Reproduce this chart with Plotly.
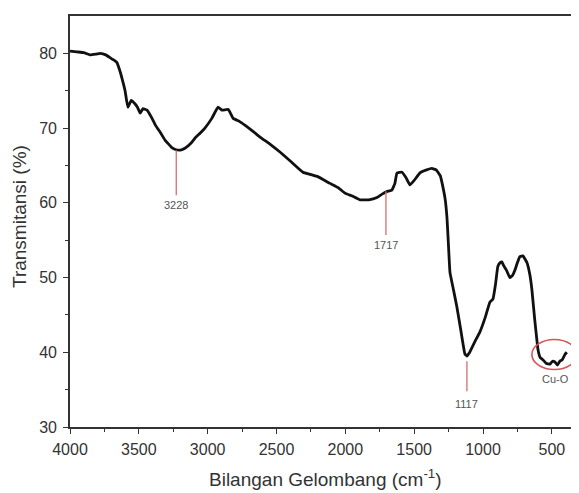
import plotly.graph_objects as go

wavenumber = [4000, 3950, 3900, 3855, 3810, 3780, 3740, 3700, 3680, 3660, 3640, 3620, 3600, 3580,
              3555, 3530, 3510, 3490, 3470, 3440, 3410, 3380, 3340, 3310, 3260, 3228, 3190, 3165,
              3120, 3090, 3050, 3020, 2970, 2925, 2895, 2850, 2815, 2770, 2730, 2680, 2620, 2550,
              2475, 2400, 2308, 2200, 2112, 2050, 2003, 1950, 1894, 1830, 1770, 1730, 1698, 1662,
              1640, 1625, 1589, 1560, 1531, 1500, 1458, 1410, 1371, 1340, 1310, 1291, 1275, 1262,
              1250, 1240, 1215, 1190, 1160, 1132, 1117, 1100, 1060, 1023, 985, 950, 928, 910, 892,
              875, 863, 850, 830, 805, 785, 768, 750, 732, 710, 681, 660, 645, 625, 609, 601, 585,
              565, 540, 514, 495, 478, 460, 442, 425, 405, 391]
transmittance = [80.3, 80.2, 80.1, 79.8, 79.9, 80.0, 79.8, 79.3, 79.1, 78.8, 77.8, 76.5, 75.0, 72.8,
                 73.7, 73.3, 72.8, 72.0, 72.6, 72.4, 71.5, 70.4, 69.3, 68.4, 67.4, 67.1, 67.1, 67.3,
                 68.0, 68.7, 69.4, 70.0, 71.3, 72.8, 72.4, 72.5, 71.3, 70.9, 70.4, 69.7, 68.8, 67.9,
                 66.8, 65.6, 64.1, 63.5, 62.6, 62.0, 61.3, 60.9, 60.4, 60.4, 60.7, 61.2, 61.5, 61.7,
                 62.6, 64.0, 64.1, 63.4, 62.4, 63.0, 64.0, 64.4, 64.6, 64.4, 63.6, 62.1, 60.5, 58.1,
                 54.0, 50.7, 48.4, 46.1, 42.8, 39.8, 39.5, 39.9, 41.4, 42.7, 44.6, 46.7, 47.1, 49.0,
                 51.5, 52.0, 52.1, 51.6, 51.0, 50.0, 50.3, 51.0, 52.0, 52.8, 52.9, 52.0, 50.4, 48.4,
                 44.5, 41.7, 40.4, 39.3, 39.0, 38.5, 38.4, 38.8, 38.7, 38.3, 38.8, 39.0, 39.7, 40.0]

peak_labels = ["3228", "1717", "1117"]
peak_x = [3228, 1705, 1117]
peak_line_top = [67.0, 61.5, 38.8]
peak_line_bottom = [61.0, 55.7, 34.8]
peak_label_y = [59.7, 54.4, 33.1]

cuo_label = "Cu-O"
cuo_x = [645, 318]
cuo_y = [37.7, 41.7]
cuo_label_pos = (470, 36.4)

x_ticks = [4000, 3500, 3000, 2500, 2000, 1500, 1000, 500]
y_ticks = [30, 40, 50, 60, 70, 80]

x_title = "Bilangan Gelombang (cm<sup>-1</sup>)"
y_title = "Transmitansi (%)"

fig = go.Figure()
fig.add_trace(go.Scatter(x=wavenumber, y=transmittance, mode="lines",
                         line=dict(color="#111111", width=2.8, shape="spline", smoothing=0.3),
                         showlegend=False, hoverinfo="skip"))

small_font = dict(size=11, color="#555555", family="Liberation Sans, Arial")
for lbl, px, yt, yb, yl in zip(peak_labels, peak_x, peak_line_top, peak_line_bottom, peak_label_y):
    fig.add_shape(type="line", x0=px, x1=px, y0=yt, y1=yb, xref="x", yref="y",
                  line=dict(color="#d9777a", width=1.4))
    fig.add_annotation(x=px, y=yl, text=lbl, showarrow=False, xref="x", yref="y", font=small_font)

fig.add_shape(type="circle", x0=cuo_x[0], x1=cuo_x[1], y0=cuo_y[0], y1=cuo_y[1],
              xref="x", yref="y", line=dict(color="#d9535a", width=1.6))
fig.add_annotation(x=cuo_label_pos[0], y=cuo_label_pos[1], text=cuo_label, showarrow=False,
                   xref="x", yref="y", font=small_font)

title_font = dict(family="Liberation Sans, Arial", size=19, color="#333333")
fig.add_annotation(text=x_title, xref="paper", yref="paper", x=0.502, y=-0.1557,
                   showarrow=False, xanchor="center", yanchor="bottom", borderpad=0,
                   font=title_font)
fig.add_annotation(text=y_title, xref="paper", yref="paper", x=-0.0984, y=0.511, textangle=-90,
                   showarrow=False, xanchor="center", yanchor="middle", font=title_font)

axis_font = dict(family="Liberation Sans, Arial", size=16, color="#333333")
common = dict(ticks="outside", ticklen=5, tickwidth=1.3, tickcolor="#333333", showline=True,
              linecolor="#333333", linewidth=1.6, mirror=True, showgrid=False, zeroline=False,
              tickfont=axis_font, automargin=False)
fig.update_xaxes(range=[4000, 310], tickvals=x_ticks, ticklabelstandoff=2,
                 minor=dict(tickvals=[3750, 3250, 2750, 2250, 1750, 1250, 750], ticks="outside",
                            ticklen=3, tickcolor="#333333", tickwidth=1.2), **common)
fig.update_yaxes(range=[30, 85], tickvals=y_ticks, ticklabelstandoff=3,
                 minor=dict(tickvals=[35, 45, 55, 65, 75], ticks="outside",
                            ticklen=3, tickcolor="#333333", tickwidth=1.2), **common)

# the page body has an 8px default margin, so the figure is sized to fit inside the window
fig.update_layout(width=571, height=485, margin=dict(l=62, r=1, t=8, b=66),
                  paper_bgcolor="white", plot_bgcolor="white")

fig.write_html("out.html")
